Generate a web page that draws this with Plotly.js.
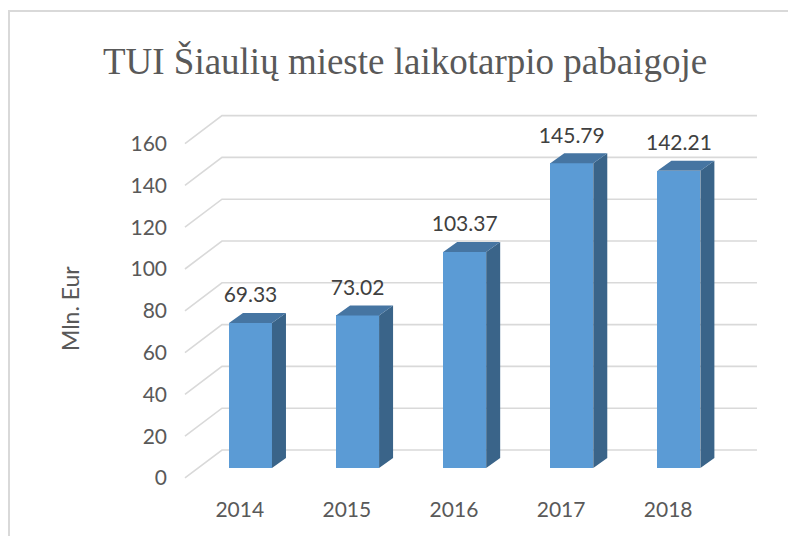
<!DOCTYPE html>
<html>
<head>
<meta charset="utf-8">
<script src="https://cdn.plot.ly/plotly-3.0.1.min.js"></script>
<style>html,body{margin:0;padding:0;background:#fff;}#chart{width:788px;height:536px;}</style>
</head>
<body>
<div id="chart"></div>
<script>
// ---- data ----
const years = ['2014', '2015', '2016', '2017', '2018'];
const values = [69.33, 73.02, 103.37, 145.79, 142.21];
const labels = ['69.33', '73.02', '103.37', '145.79', '142.21'];
const yTicks = [0, 20, 40, 60, 80, 100, 120, 140, 160];

// ---- layout geometry (style constants) ----
const W = 788, H = 536;
const L = 168, R = 765, T = 100, B = 490;
const xRange = [-0.770, 4.804];
const yRange = [-10.53, 176.08];
const barW = 0.4015;          // bar front width (category units)
const depX = 0.1307, depY = 4.785; // bar depth offset
const frontOff = -4.78, backOff = 8.61; // floor front / back wall offsets (value units)
const wallFrontX = -0.6116, wallBackX = -0.266, wallRightX = 4.729;
const labelLift = 12.4;
const grid = '#d9d9d9', txt = '#595959';
const sans = 'Lato, sans-serif';

const xs = years.map((_, i) => i);

// side faces and top faces of the 3D bars
const sideX = [], sideY = [], topX = [], topY = [];
xs.forEach((x, i) => {
  const v = values[i];
  const r = x + barW / 2, l = x - barW / 2;
  sideX.push(r, r + depX, r + depX, r, r, null);
  sideY.push(0, depY, v + depY, v, 0, null);
  topX.push(l, r, r + depX, l + depX, l, null);
  topY.push(v, v, v + depY, v + depY, v, null);
});

const traces = [
  {type: 'bar', x: xs, y: values, width: barW, marker: {color: '#5B9BD5', line: {width: 0}},
   hoverinfo: 'skip', showlegend: false},
  {type: 'scatter', mode: 'lines', x: sideX, y: sideY, fill: 'toself', fillcolor: '#3A6489',
   line: {width: 0, color: '#3A6489'}, hoverinfo: 'skip', showlegend: false},
  {type: 'scatter', mode: 'lines', x: topX, y: topY, fill: 'toself', fillcolor: '#4675A2',
   line: {width: 0, color: '#4675A2'}, hoverinfo: 'skip', showlegend: false},
  {type: 'scatter', mode: 'text', x: xs, y: values.map(v => v + labelLift), text: labels,
   textposition: 'middle center', textfont: {family: sans, size: 21, color: '#404040'},
   hoverinfo: 'skip', showlegend: false, cliponaxis: false}
];

// gridlines: slanted floor-to-wall segment + horizontal back-wall line
const shapes = yTicks.map(g => ({
  type: 'path', xref: 'x', yref: 'y', layer: 'below',
  path: `M ${wallFrontX},${g + frontOff} L ${wallBackX},${g + backOff} L ${wallRightX},${g + backOff}`,
  line: {color: grid, width: 1.6}
}));
// outer chart border
const px2paperX = p => (p - L) / (R - L);
const px2paperY = p => (B - p) / (B - T);
shapes.push({type: 'rect', xref: 'paper', yref: 'paper', layer: 'below',
  x0: px2paperX(9), x1: px2paperX(W + 20), y0: px2paperY(11), y1: px2paperY(H + 20),
  line: {color: grid, width: 2}, fillcolor: 'rgba(0,0,0,0)'});

const layout = {
  width: W, height: H,
  margin: {l: L, r: W - R, t: T, b: H - B},
  paper_bgcolor: '#fff', plot_bgcolor: '#fff',
  title: {text: 'TUI Šiaulių mieste laikotarpio pabaigoje', xref: 'container', yref: 'container',
          x: 405 / W, y: 1 - 61 / H, xanchor: 'center', yanchor: 'middle',
          font: {family: '"Times New Roman", "Liberation Serif", serif', size: 37, color: txt}},
  xaxis: {range: xRange, showgrid: false, zeroline: false, showline: false, ticks: '',
          tickvals: xs.map(x => x - 0.1), ticktext: years, ticklabelstandoff: 5,
          tickfont: {family: sans, size: 21, color: txt}, fixedrange: true},
  yaxis: {range: yRange, showgrid: false, zeroline: false, showline: false, ticks: '',
          tickvals: yTicks.map(g => g + frontOff), ticktext: yTicks.map(String),
          tickfont: {family: sans, size: 21, color: txt}, fixedrange: true},
  annotations: [{text: 'Mln. Eur', xref: 'paper', yref: 'paper', x: px2paperX(70), y: px2paperY(309),
                 showarrow: false, textangle: -90, xanchor: 'center', yanchor: 'middle',
                 font: {family: sans, size: 23, color: txt}}],
  shapes: shapes,
  showlegend: false, bargap: 0
};

Plotly.newPlot('chart', traces, layout, {displayModeBar: false, staticPlot: true});
</script>
</body>
</html>
